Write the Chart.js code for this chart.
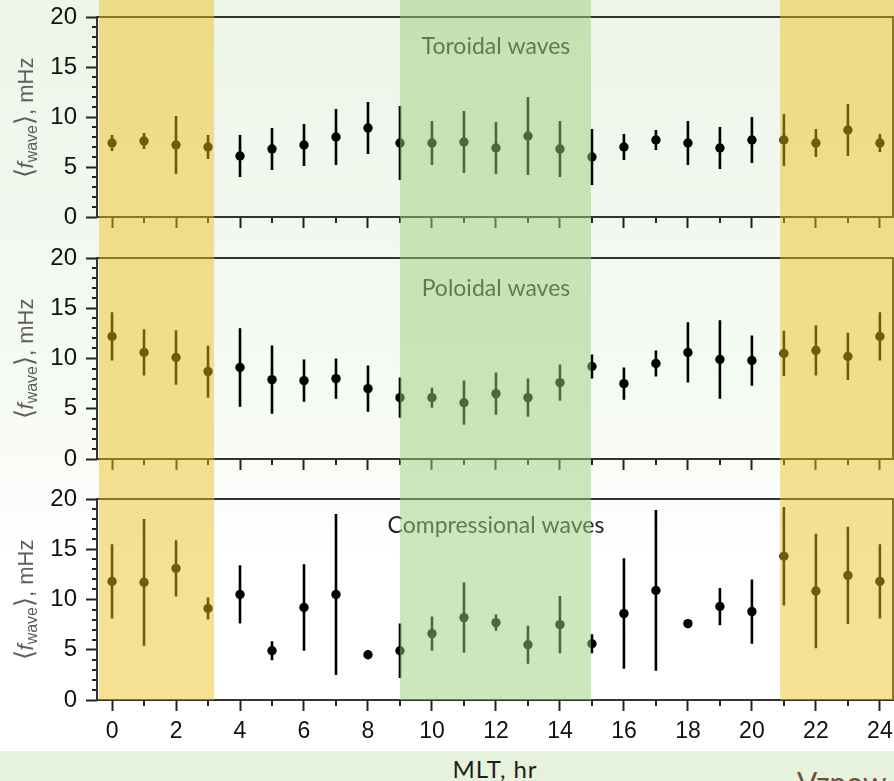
<!DOCTYPE html>
<html>
<head>
<meta charset="utf-8">
<script src="https://cdn.jsdelivr.net/npm/chart.js@4.4.0/dist/chart.umd.min.js"></script>
<style>
  html, body { margin: 0; padding: 0; }
  body {
    width: 894px; height: 781px; overflow: hidden; position: relative;
    background: linear-gradient(to bottom, #edf5e8 0px, #f2f8ef 230px, #f8fbf6 450px, #ffffff 560px, #ffffff 781px);
  }
  canvas { position: absolute; left: 0; }
  .ytitle {
    position: absolute; left: 25px;
    transform: translate(-50%, -50%) rotate(-90deg);
    white-space: nowrap; line-height: 1;
    font: 22px "Liberation Sans", Arial, sans-serif; color: #5e5e5e;
  }
  .ytitle .br { font-size: 26px; }
  .ytitle sub { font-size: 16px; vertical-align: -4px; }
  #strip { position: absolute; left: 0; top: 751px; width: 894px; height: 30px; background: #e6f2dd; }
  #xtitle {
    position: absolute; left: 495px; top: 757px; transform: translateX(-50%);
    font: 24px Lato, sans-serif; letter-spacing: 0.9px; line-height: 1; color: #1e1e1e; white-space: nowrap;
  }
  #footer {
    position: absolute; left: 797px; top: 767px;
    font: 30px Lato, sans-serif; line-height: 1; color: #6e5038; white-space: nowrap;
  }
</style>
</head>
<body>
<canvas id="toroidal" width="894" height="238" style="top:0px"></canvas>
<canvas id="poloidal" width="894" height="240" style="top:238px"></canvas>
<canvas id="compressional" width="894" height="273" style="top:478px"></canvas>
<div class="ytitle" style="top:118px"><span class="br">⟨</span><i>f</i><sub>wave</sub><span class="br">⟩</span>, mHz</div>
<div class="ytitle" style="top:359px"><span class="br">⟨</span><i>f</i><sub>wave</sub><span class="br">⟩</span>, mHz</div>
<div class="ytitle" style="top:600px"><span class="br">⟨</span><i>f</i><sub>wave</sub><span class="br">⟩</span>, mHz</div>
<div id="strip"></div>
<div id="xtitle">MLT, hr</div>
<div id="footer">Vznow</div>
<script>
// magnetic local time bins, hr
const mlt = [0, 1, 2, 3, 4, 5, 6, 7, 8, 9, 10, 11, 12, 13, 14, 15, 16, 17, 18, 19, 20, 21, 22, 23, 24];
const xTicks = [0, 2, 4, 6, 8, 10, 12, 14, 16, 18, 20, 22, 24];
const yTicks = [0, 5, 10, 15, 20];

// mean wave frequency (mHz) and its spread per MLT bin
const toroidalMean = [7.4, 7.6, 7.2, 7.0, 6.1, 6.8, 7.2, 8.0, 8.9, 7.4, 7.4, 7.5, 6.9, 8.1, 6.8, 6.0, 7.0, 7.7, 7.4, 6.9, 7.7, 7.7, 7.4, 8.7, 7.4];
const toroidalErr = [0.8, 0.8, 2.9, 1.2, 2.1, 2.1, 2.1, 2.8, 2.6, 3.7, 2.2, 3.1, 2.6, 3.9, 2.8, 2.8, 1.3, 1.0, 2.2, 2.1, 2.3, 2.6, 1.4, 2.6, 0.9];
const poloidalMean = [12.2, 10.6, 10.1, 8.7, 9.1, 7.9, 7.8, 8.0, 7.0, 6.1, 6.1, 5.6, 6.5, 6.1, 7.6, 9.2, 7.5, 9.5, 10.6, 9.9, 9.8, 10.5, 10.8, 10.2, 12.2];
const poloidalErr = [2.4, 2.3, 2.7, 2.6, 3.9, 3.4, 2.1, 2.0, 2.3, 2.0, 1.0, 2.2, 2.1, 1.9, 1.8, 1.2, 1.6, 1.3, 3.0, 3.9, 2.5, 2.25, 2.5, 2.35, 2.4];
const compressionalMean = [11.8, 11.7, 13.1, 9.1, 10.5, 4.9, 9.2, 10.5, 4.5, 4.9, 6.6, 8.2, 7.7, 5.5, 7.5, 5.6, 8.6, 10.9, 7.6, 9.3, 8.8, 14.3, 10.85, 12.4, 11.8];
const compressionalErr = [3.7, 6.3, 2.8, 1.1, 2.9, 0.95, 4.3, 8.0, 0.2, 2.7, 1.7, 3.5, 0.8, 1.9, 2.85, 0.95, 5.5, 8.0, 0.2, 1.85, 3.2, 4.9, 5.7, 4.85, 3.7];

// shaded MLT sectors: night (yellow) and noon (green)
const bandStart = [-0.41, 9.0, 20.88];
const bandEnd = [3.19, 14.97, 24.45];
const bandColor = ['rgba(236, 192, 30, 0.48)', 'rgba(156, 208, 124, 0.5)', 'rgba(236, 192, 30, 0.48)'];

const TICK = '#222';

// frame, minor ticks, panel label and the sector shading
const panelDecor = {
  id: 'panelDecor',
  afterDatasetsDraw(chart, args, opts) {
    const ctx = chart.ctx;
    const a = chart.chartArea;
    const x = chart.scales.x, y = chart.scales.y;
    ctx.save();
    ctx.strokeStyle = TICK;
    ctx.lineWidth = 2;
    ctx.beginPath();
    for (let v = 1; v < 20; v++) {
      if (v % 5 === 0) continue;
      const py = Math.round(y.getPixelForValue(v));
      ctx.moveTo(a.left - 5, py);
      ctx.lineTo(a.left, py);
    }
    for (let h = 1; h < 24; h += 2) {
      const px = Math.round(x.getPixelForValue(h));
      ctx.moveTo(px, a.bottom);
      ctx.lineTo(px, a.bottom + 6);
    }
    ctx.stroke();
    ctx.strokeStyle = '#333';
    ctx.strokeRect(a.left, a.top, a.right - a.left, a.bottom - a.top);
    ctx.fillStyle = '#262626';
    ctx.font = '23px Lato, sans-serif';
    ctx.textAlign = 'center';
    ctx.textBaseline = 'middle';
    ctx.fillText(opts.title, x.getPixelForValue(12), y.getPixelForValue(opts.titleAt));
    ctx.restore();
  },
  afterDraw(chart, args, opts) {
    const ctx = chart.ctx;
    const x = chart.scales.x;
    const bottom = opts.toAxis ? chart.chartArea.bottom : chart.height;
    ctx.save();
    for (let i = 0; i < bandStart.length; i++) {
      const x0 = x.getPixelForValue(bandStart[i]);
      const x1 = x.getPixelForValue(bandEnd[i]);
      ctx.fillStyle = bandColor[i];
      ctx.fillRect(x0, 0, x1 - x0, bottom);
    }
    ctx.restore();
  }
};

function errorSegments(mean, err) {
  const pts = [];
  mlt.forEach((h, i) => {
    pts.push({ x: h, y: mean[i] - err[i] });
    pts.push({ x: h, y: mean[i] + err[i] });
    pts.push({ x: h, y: null });
  });
  return pts;
}

function makePanel(id, mean, err, title, titleAt, padTop, xHeight, showLabels) {
  const ctx = document.getElementById(id).getContext('2d');
  return new Chart(ctx, {
    type: 'scatter',
    data: {
      datasets: [
        {
          type: 'line',
          data: errorSegments(mean, err),
          borderColor: '#000',
          borderWidth: 2.6,
          pointRadius: 0,
          spanGaps: false,
          fill: false
        },
        {
          data: mlt.map((h, i) => ({ x: h, y: mean[i] })),
          backgroundColor: '#000',
          borderWidth: 0,
          pointRadius: 4.7
        }
      ]
    },
    options: {
      responsive: false,
      animation: false,
      layout: { autoPadding: false, padding: { top: padTop, right: 1, left: 0, bottom: 0 } },
      plugins: {
        legend: { display: false },
        tooltip: { enabled: false },
        panelDecor: { title: title, titleAt: titleAt, toAxis: showLabels }
      },
      scales: {
        x: {
          type: 'linear',
          min: -0.47,
          max: 24.41,
          afterBuildTicks: s => { s.ticks = xTicks.map(v => ({ value: v })); },
          afterFit: s => { s.height = xHeight; s.paddingLeft = 0; s.paddingRight = 0; },
          border: { display: false },
          grid: { drawOnChartArea: false, tickLength: 11, tickWidth: 2, tickColor: TICK },
          ticks: {
            display: showLabels,
            autoSkip: false,
            maxRotation: 0,
            padding: 7,
            color: '#111',
            font: { family: '"Liberation Sans", Arial, sans-serif', size: 23 }
          }
        },
        y: {
          min: 0,
          max: 20,
          afterBuildTicks: s => { s.ticks = yTicks.map(v => ({ value: v })); },
          afterFit: s => { s.width = 97; s.paddingTop = 0; s.paddingBottom = 0; },
          border: { display: false },
          grid: { drawOnChartArea: false, tickLength: 11, tickWidth: 2, tickColor: TICK },
          ticks: {
            padding: 9,
            color: '#111',
            font: { family: '"Liberation Sans", Arial, sans-serif', size: 24 }
          }
        }
      }
    },
    plugins: [panelDecor]
  });
}

makePanel('toroidal', toroidalMean, toroidalErr, 'Toroidal waves', 17, 17, 21, false);
makePanel('poloidal', poloidalMean, poloidalErr, 'Poloidal waves', 17, 20, 19, false);
makePanel('compressional', compressionalMean, compressionalErr, 'Compressional waves', 17.4, 21, 51, true);
</script>
</body>
</html>
